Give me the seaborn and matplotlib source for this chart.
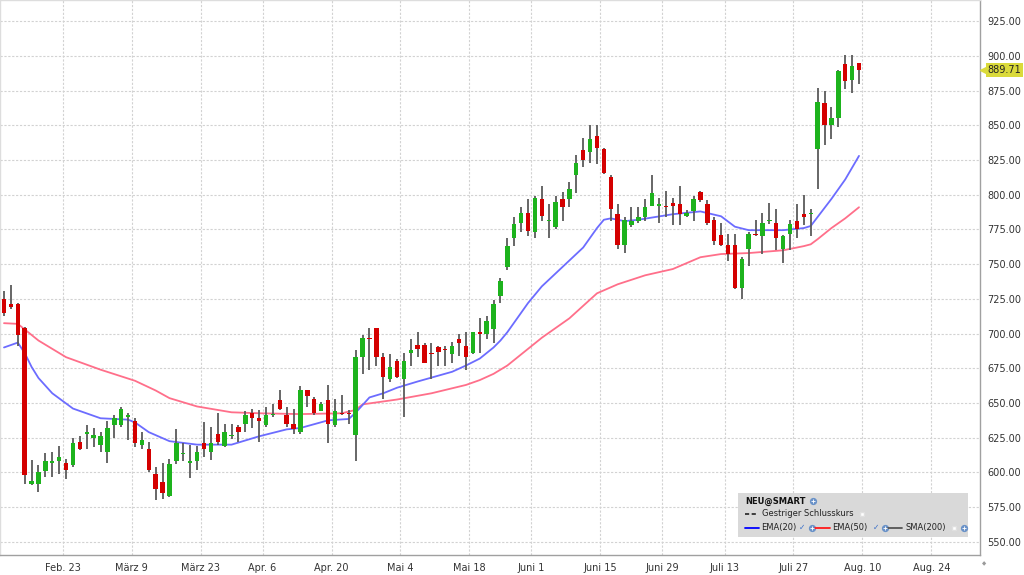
import numpy as np
import pandas as pd
import matplotlib
matplotlib.use("Agg")
import matplotlib.pyplot as plt
import matplotlib.transforms as mtransforms
from matplotlib.patches import Rectangle
from matplotlib.lines import Line2D
import seaborn as sns

# daily OHLC (trading days Feb 9 .. Aug 7)
opens = [725, 721, 721, 704, 592, 592, 601, 607, 608, 607,
         605, 622, 628, 625, 620, 615, 634, 634, 640, 637,
         620, 617, 599, 593, 583, 608, 613, 607, 608, 621,
         615, 628, 619, 626, 633, 635, 643, 639, 634, 641,
         652, 641, 635, 629, 659, 653, 644, 652, 634, 643,
         643, 627, 683, 697, 704, 683, 667, 680, 667, 686,
         692, 692, 686, 690, 689, 685, 696, 691, 686, 701,
         700, 703, 727, 748, 769, 780, 787, 773, 797, 781,
         777, 797, 797, 814, 832, 831, 842, 833, 813, 786,
         764, 778, 781, 784, 792, 792, 792, 794, 793, 785,
         788, 802, 793, 782, 771, 764, 764, 733, 761, 772,
         770, 781, 780, 761, 772, 781, 786, 786, 833, 866,
         850, 855, 894, 883, 895]
highs = [731, 735, 722, 705, 609, 605, 614, 615, 619, 610,
         625, 626, 634, 632, 629, 637, 641, 647, 643, 639,
         629, 622, 604, 607, 610, 631, 621, 620, 619, 636,
         633, 643, 635, 635, 634, 644, 646, 645, 647, 649,
         659, 647, 646, 662, 659, 654, 651, 663, 653, 656,
         645, 688, 699, 704, 704, 686, 685, 682, 686, 696,
         701, 693, 693, 691, 691, 694, 700, 701, 701, 711,
         713, 724, 740, 769, 784, 791, 797, 799, 806, 793,
         799, 802, 809, 829, 841, 850, 850, 834, 814, 793,
         784, 791, 791, 797, 814, 798, 803, 798, 806, 789,
         799, 803, 796, 784, 780, 772, 772, 755, 773, 782,
         787, 794, 790, 771, 782, 793, 800, 790, 877, 875,
         863, 890, 901, 901, 895]
lows = [713, 718, 691, 592, 591, 586, 597, 597, 599, 595,
        604, 616, 617, 618, 615, 607, 625, 633, 623, 618,
        617, 600, 580, 581, 582, 606, 608, 596, 602, 611,
        609, 620, 618, 624, 622, 629, 632, 622, 633, 640,
        645, 633, 628, 628, 647, 641, 644, 621, 633, 641,
        635, 608, 671, 674, 677, 653, 665, 668, 640, 677,
        683, 679, 667, 677, 677, 679, 684, 674, 685, 686,
        696, 693, 722, 746, 763, 773, 770, 769, 781, 769,
        775, 781, 791, 801, 820, 823, 822, 815, 781, 761,
        758, 777, 780, 781, 792, 780, 784, 778, 778, 784,
        781, 795, 778, 764, 763, 752, 732, 725, 749, 770,
        757, 779, 760, 751, 760, 769, 778, 770, 804, 836,
        840, 849, 876, 873, 880]
closes = [715, 719, 699, 598, 594, 600, 608, 608, 611, 602,
          621, 617, 629, 627, 626, 632, 639, 646, 641, 621,
          623, 602, 588, 585, 606, 621, 614, 608, 615, 617,
          621, 622, 629, 627, 629, 641, 639, 637, 641, 642,
          646, 635, 631, 659, 655, 643, 649, 635, 644, 642,
          642, 683, 697, 696, 683, 669, 676, 669, 680, 688,
          689, 679, 685, 687, 688, 691, 693, 683, 701, 700,
          709, 721, 738, 763, 779, 787, 774, 798, 785, 782,
          795, 791, 804, 823, 825, 840, 834, 816, 790, 764,
          782, 781, 784, 791, 801, 793, 791, 792, 786, 787,
          797, 796, 780, 767, 764, 757, 733, 754, 772, 771,
          780, 782, 769, 770, 779, 775, 784, 787, 867, 850,
          855, 889, 882, 893, 889.71]

# indicator lines, read at selected trading-day positions
ema20_day = [0, 2, 3, 4, 5, 7, 10, 14, 18, 19, 21, 24, 28, 33, 37, 41, 43, 47, 50,
             51, 53, 55, 57, 60, 65, 67, 69, 71, 72, 73, 76, 78, 81, 84, 86, 87, 88,
             90, 92, 97, 101, 104, 106, 108, 113, 116, 117, 118, 120, 122, 124]
ema20_val = [690, 693.5, 686, 676, 668, 657, 646, 639, 638, 636, 629, 622.5, 620, 620,
             626, 631, 632, 637.5, 638.5, 643, 654, 657, 661, 665.5, 672.5, 677, 682,
             690, 695, 701, 722, 734, 748, 762, 776, 782, 783, 781, 782, 786, 788,
             784.5, 777, 774.5, 774.5, 776, 777.5, 784, 797, 811, 828]
ema50_day = [0, 2, 3, 5, 7, 9, 14, 19, 22, 24, 28, 33, 37, 43, 49, 51, 52, 57, 62, 67,
             69, 71, 73, 76, 78, 82, 84, 86, 89, 93, 97, 101, 104, 108, 113, 116, 117,
             118, 120, 122, 124]
ema50_val = [707.5, 707, 703, 695, 689, 683, 674, 666, 659, 653.5, 647.5, 643.3, 642.6,
             642, 642.6, 645, 649, 652.5, 657, 663, 666.5, 671, 677, 689, 697, 711, 720,
             729, 735.5, 742, 746.5, 755, 757.3, 758, 760, 763, 764.3, 768, 776, 783, 791]

holidays = ["2026-02-16", "2026-04-03", "2026-05-25", "2026-06-19", "2026-07-03"]
tick_dates = ["2026-02-23", "2026-03-09", "2026-03-23", "2026-04-06", "2026-04-20",
              "2026-05-04", "2026-05-18", "2026-06-01", "2026-06-15", "2026-06-29",
              "2026-07-13", "2026-07-27", "2026-08-10", "2026-08-24"]
tick_labels = ["Feb. 23", "März 9", "März 23", "Apr. 6", "Apr. 20", "Mai 4", "Mai 18",
               "Juni 1", "Juni 15", "Juni 29", "Juli 13", "Juli 27", "Aug. 10", "Aug. 24"]
price_ticks = [550, 575, 600, 625, 650, 675, 700, 725, 750, 775, 800, 825, 850, 875, 900, 925]

sns.set_theme(style="white")
plt.rcParams["font.family"] = ["DejaVu Sans"]

days = pd.bdate_range("2026-02-09", "2026-09-04")
days = days[~days.isin(pd.to_datetime(holidays))]
tick_pos = [days.get_loc(pd.Timestamp(d)) - 0.5 for d in tick_dates]

W, H = 1024, 575
fig = plt.figure(figsize=(W / 100, H / 100), dpi=100)
ax = fig.add_axes([0, 20 / H, 980 / W, 555 / H])

o = np.array(opens, float)
c = np.array(closes, float)
hi = np.array(highs, float)
lo = np.array(lows, float)
idx = np.arange(len(c))

# moving averages (behind the candles)
sns.lineplot(x=ema50_day, y=ema50_val, ax=ax, color="#ff6f8a", lw=1.3, zorder=2)
sns.lineplot(x=ema20_day, y=ema20_val, ax=ax, color="#6c6cff", lw=1.3, zorder=2)

# candles
ax.vlines(idx, lo, hi, color="#5a5a5a", lw=1.3, zorder=3)
body_col = np.where(c >= o, "#1db31d", "#d40000")
ax.bar(idx, np.maximum(np.abs(c - o), 1.0), bottom=np.minimum(o, c), width=0.64,
       color=body_col, linewidth=0, zorder=4)

ax.set_xlim(-0.58, 141.55)
ax.set_ylim(540.5, 940.3)
ax.set_xticks(tick_pos)
ax.set_xticklabels(tick_labels)
ax.set_yticks(price_ticks)
ax.set_yticklabels([f"{v:.2f}" for v in price_ticks])
ax.yaxis.tick_right()
ax.grid(True, color="#d2d2d2", linestyle=(0, (2, 1.5)), lw=0.8)
ax.tick_params(axis="y", length=0, pad=5, labelsize=7, labelcolor="#333333")
ax.tick_params(axis="x", length=3, width=0.8, color="#b0b0b0", pad=3,
               labelsize=7, labelcolor="#333333")
for side in ["right", "bottom"]:
    ax.spines[side].set_color("#a0a0a0")
    ax.spines[side].set_linewidth(1.0)
for side in ["left", "top"]:
    ax.spines[side].set_color("#dddddd")
    ax.spines[side].set_linewidth(1.0)
ax.set_xlabel("")
ax.set_ylabel("")

# last price tag
trans = mtransforms.blended_transform_factory(ax.transAxes, ax.transData)
ax.plot([1.003], [c[-1]], marker="<", ms=4, color="#dada3a", transform=trans,
        clip_on=False, zorder=10)
ax.text(1.008, c[-1], f"{c[-1]:.2f}", transform=trans, fontsize=7, color="#222222",
        va="center", ha="left", clip_on=False, zorder=11,
        bbox=dict(boxstyle="square,pad=0.18", fc="#dada3a", ec="none"))


# legend box, drawn in figure pixels
def P(x, y):
    return x / W, 1 - y / H


ft = fig.transFigure
fig.add_artist(Rectangle(P(738, 537), 230 / W, 44 / H, transform=ft,
                         fc="#d9d9d9", ec="none", zorder=5))


def hline(x0, x1, y, **kw):
    fig.add_artist(Line2D([x0 / W, x1 / W], [1 - y / H] * 2, transform=ft, zorder=6, **kw))


def globe(x, y):
    fig.add_artist(Line2D([x / W], [1 - y / H], transform=ft, marker="o", ms=4.2,
                          color="#6a92c8", zorder=6))
    fig.add_artist(Line2D([x / W], [1 - y / H], transform=ft, marker="+", ms=3.5,
                          color="white", mew=0.6, zorder=7))


def box(x, y):
    fig.add_artist(Line2D([x / W], [1 - y / H], transform=ft, marker="s", ms=3.5,
                          mfc="white", mec="#e0e0e0", zorder=6))


fig.text(*P(745, 501), "NEU@SMART", fontsize=6, weight="bold", color="#111111",
         va="center", zorder=6)
globe(813, 501)

hline(745, 758, 514, color="#222222", lw=1.2, ls=(0, (2.5, 1.5)))
fig.text(*P(762, 514), "Gestriger Schlusskurs", fontsize=6, color="#222222",
         va="center", zorder=6)
box(862, 514)

hline(745, 759, 527.5, color="#0000ff", lw=1.3)
fig.text(*P(761, 527.5), "EMA(20)", fontsize=6, color="#222222", va="center", zorder=6)
fig.text(*P(799, 527.5), "✓", fontsize=5.5, color="#3a6fc8", va="center", zorder=6)
globe(812, 527.5)
hline(815, 830, 527.5, color="#ff1a1a", lw=1.3)
fig.text(*P(832, 527.5), "EMA(50)", fontsize=6, color="#222222", va="center", zorder=6)
fig.text(*P(873, 527.5), "✓", fontsize=5.5, color="#3a6fc8", va="center", zorder=6)
globe(885, 527.5)
hline(888, 902, 527.5, color="#555555", lw=1.3)
fig.text(*P(905, 527.5), "SMA(200)", fontsize=6, color="#222222", va="center", zorder=6)
box(954, 527.5)
globe(964, 527.5)

fig.text(*P(984, 564), "◆", fontsize=4, color="#9a9a9a", va="center", ha="center")

fig.savefig("out.png", dpi=100)
